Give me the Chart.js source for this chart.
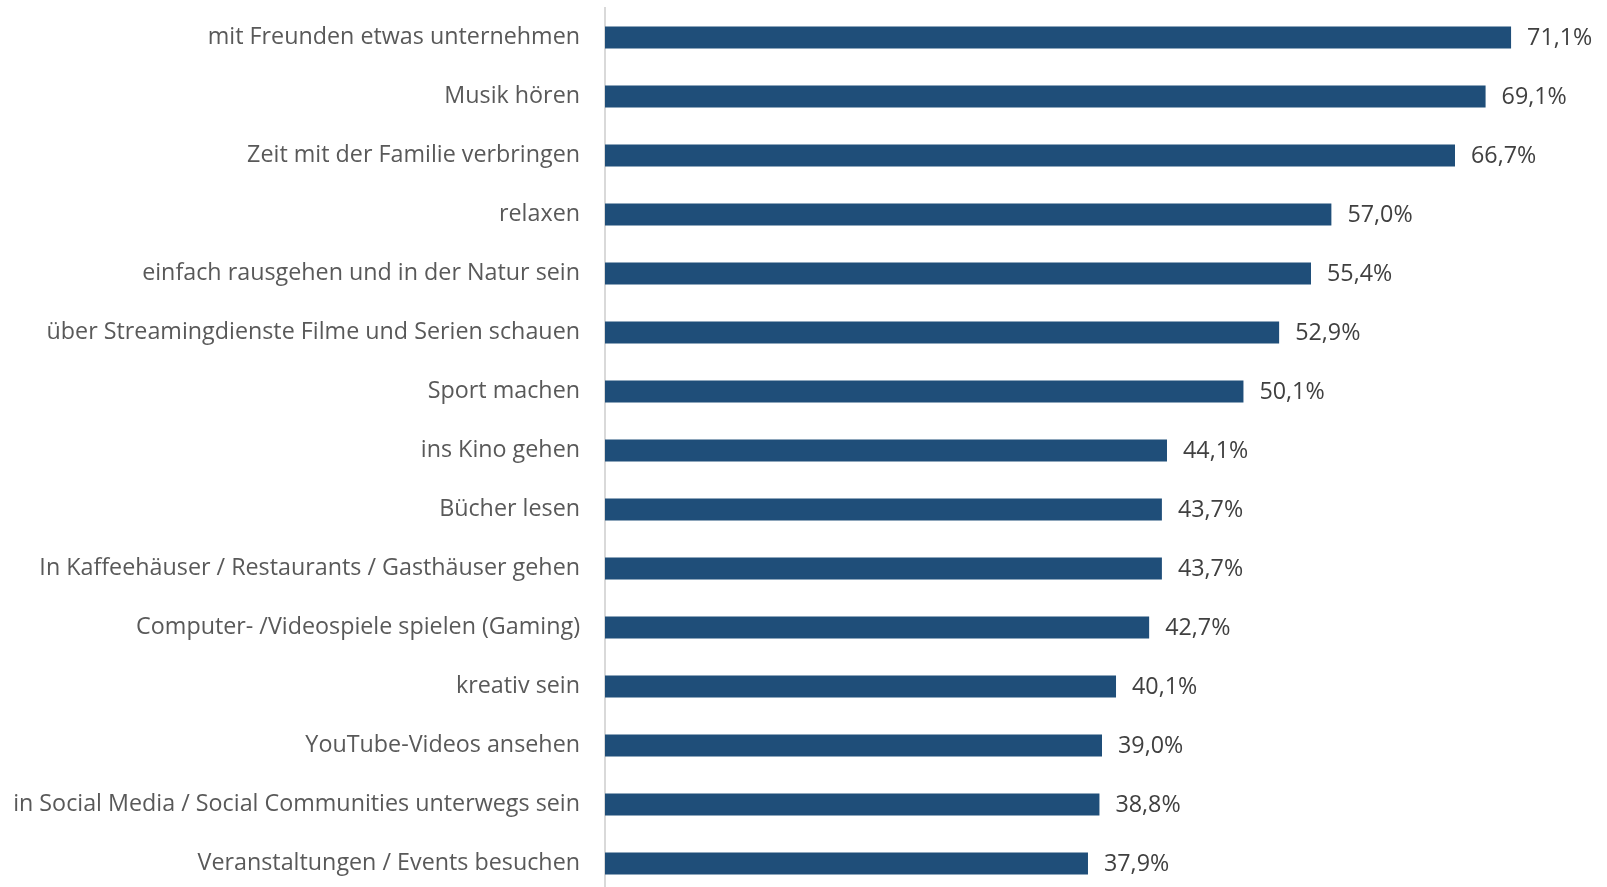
<!DOCTYPE html>
<html>
<head>
<meta charset="utf-8">
<script src="https://cdn.jsdelivr.net/npm/chart.js@4"></script>
<style>
html,body{margin:0;padding:0;background:#fff;overflow:hidden;}
#wrap{position:relative;width:1607px;height:893px;}
</style>
</head>
<body>
<div id="wrap"><canvas id="c"></canvas></div>
<script>
const categories = [
  "mit Freunden etwas unternehmen",
  "Musik hören",
  "Zeit mit der Familie verbringen",
  "relaxen",
  "einfach rausgehen und in der Natur sein",
  "über Streamingdienste Filme und Serien schauen",
  "Sport machen",
  "ins Kino gehen",
  "Bücher lesen",
  "In Kaffeehäuser / Restaurants / Gasthäuser gehen",
  "Computer- /Videospiele spielen (Gaming)",
  "kreativ sein",
  "YouTube-Videos ansehen",
  "in Social Media / Social Communities unterwegs sein",
  "Veranstaltungen / Events besuchen"
];
const values = [71.1, 69.1, 66.7, 57.0, 55.4, 52.9, 50.1, 44.1, 43.7, 43.7, 42.7, 40.1, 39.0, 38.8, 37.9];

const FONT = "'Open Sans', 'Noto Sans', sans-serif";

const valueLabels = {
  id: 'valueLabels',
  afterDatasetsDraw(chart) {
    const ctx = chart.ctx;
    const meta = chart.getDatasetMeta(0);
    ctx.save();
    ctx.font = "23.3px " + FONT;
    ctx.fillStyle = "#404040";
    ctx.textAlign = "left";
    ctx.textBaseline = "middle";
    meta.data.forEach((bar, i) => {
      const v = chart.data.datasets[0].data[i];
      const txt = v.toFixed(1).replace('.', ',') + '%';
      ctx.fillText(txt, bar.x + 16, bar.y + 1);
    });
    ctx.restore();
  }
};

new Chart(document.getElementById('c'), {
  type: 'bar',
  data: {
    labels: categories,
    datasets: [{
      data: values,
      backgroundColor: '#1f4e79',
      borderWidth: 0,
      barPercentage: 0.373,
      categoryPercentage: 1.0
    }]
  },
  options: {
    indexAxis: 'y',
    responsive: true,
    maintainAspectRatio: false,
    animation: false,
    layout: { padding: { top: 8, bottom: 0, left: 0, right: 8 } },
    plugins: { legend: { display: false }, tooltip: { enabled: false } },
    scales: {
      x: { display: false, min: 0, max: 78 },
      y: {
        grid: { display: false, drawTicks: false },
        border: { display: true, color: '#d9d9d9', width: 2 },
        ticks: { color: '#595959', font: { family: FONT, size: 23.3 }, padding: 25, autoSkip: false },
        afterFit(scale) { scale.width = 605; scale.paddingTop = 0; scale.paddingBottom = 0; }
      }
    }
  },
  plugins: [valueLabels]
});
</script>
</body>
</html>
